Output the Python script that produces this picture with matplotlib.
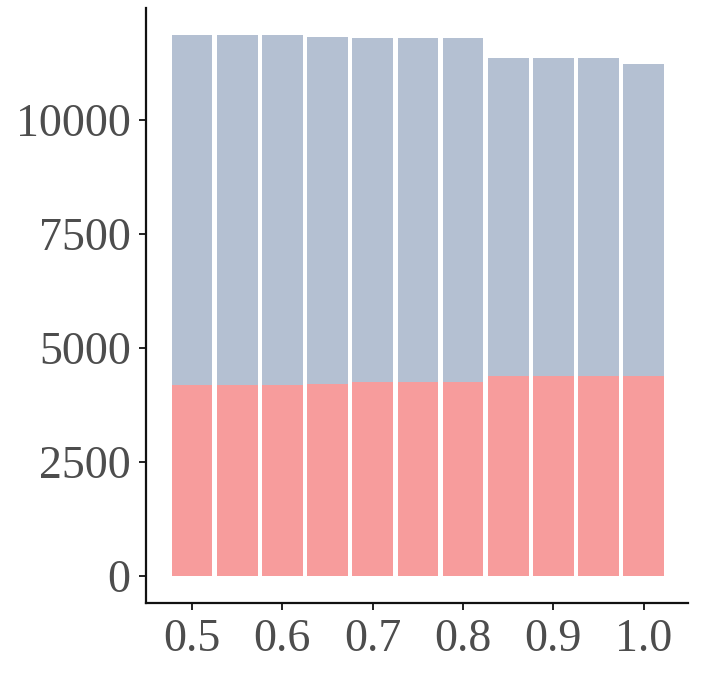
import numpy as np
import matplotlib
matplotlib.use('Agg')
import matplotlib.pyplot as plt

# значения
x = [0.50, 0.55, 0.60, 0.65, 0.70, 0.75, 0.80, 0.85, 0.90, 0.95, 1.00]
bottom_vals = [4190, 4190, 4190, 4210, 4247, 4247, 4247, 4386, 4386, 4386, 4386]
total_vals = [11864, 11864, 11864, 11820, 11798, 11798, 11798, 11353, 11353, 11353, 11228]
top_vals = [t - b for t, b in zip(total_vals, bottom_vals)]

x_ticks = [0.5, 0.6, 0.7, 0.8, 0.9, 1.0]
x_tick_labels = ['0.5', '0.6', '0.7', '0.8', '0.9', '1.0']
y_ticks = [0, 2500, 5000, 7500, 10000]

plt.rcParams['font.family'] = ['Liberation Serif', 'DejaVu Serif']

fig = plt.figure(figsize=(7.01, 6.79), dpi=100)
ax = fig.add_axes([146 / 701, (679 - 603) / 679, (688 - 146) / 701, (603 - 8) / 679])

ax.bar(x, bottom_vals, width=0.045, color='#F79C9C', linewidth=0)
ax.bar(x, top_vals, width=0.045, bottom=bottom_vals, color='#B4C0D2', linewidth=0)

ax.set_xlim(0.449, 1.049)
ymax = max(total_vals) * 1.05
ax.set_ylim(-0.05 * max(total_vals), ymax)

ax.set_xticks(x_ticks)
ax.set_xticklabels(x_tick_labels)
ax.set_yticks(y_ticks)

for side in ['top', 'right']:
    ax.spines[side].set_visible(False)
for side in ['left', 'bottom']:
    ax.spines[side].set_linewidth(1.6)
    ax.spines[side].set_color('#111111')

ax.tick_params(axis='both', labelsize=33, colors='#4D4D4D', length=5, width=1.4, pad=6)
ax.tick_params(axis='both', color='#222222')

plt.savefig('out.png', dpi=100)
plt.close()
